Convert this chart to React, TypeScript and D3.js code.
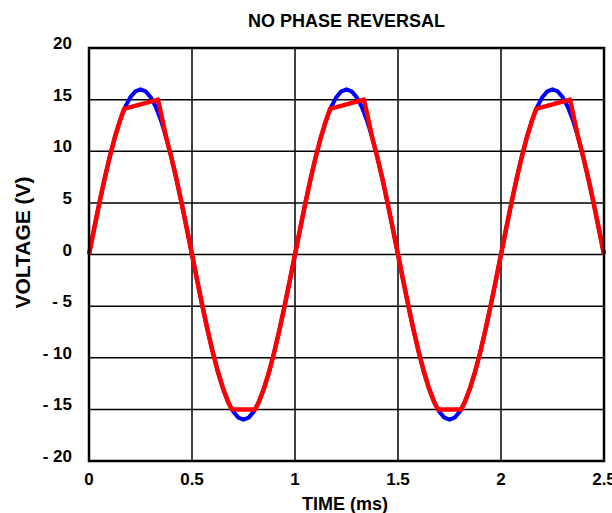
import React from "react";
import * as d3 from "d3";

const title = "NO PHASE REVERSAL";
const xLabel = "TIME (ms)";
const yLabel = "VOLTAGE (V)";
const xTicks = [0, 0.5, 1, 1.5, 2, 2.5];
const xTickLabels = ["0", "0.5", "1", "1.5", "2", "2.5"];
const yTicks = [20, 15, 10, 5, 0, -5, -10, -15, -20];
const yTickLabels = ["20", "15", "10", "5", "0", "- 5", "- 10", "- 15", "- 20"];

// Input (blue) — time in ms
const blueTime = [
  0, 0.025, 0.05, 0.075, 0.1, 0.125, 0.15, 0.175, 0.2, 0.225, 0.25, 0.275, 0.3, 0.325, 0.35, 0.375, 0.4, 0.425, 0.45, 0.475,
  0.5, 0.525, 0.55, 0.575, 0.6, 0.625, 0.65, 0.675, 0.7, 0.725, 0.75, 0.775, 0.8, 0.825, 0.85, 0.875, 0.9, 0.925, 0.95, 0.975,
  1, 1.025, 1.05, 1.075, 1.1, 1.125, 1.15, 1.175, 1.2, 1.225, 1.25, 1.275, 1.3, 1.325, 1.35, 1.375, 1.4, 1.425, 1.45, 1.475,
  1.5, 1.525, 1.55, 1.575, 1.6, 1.625, 1.65, 1.675, 1.7, 1.725, 1.75, 1.775, 1.8, 1.825, 1.85, 1.875, 1.9, 1.925, 1.95, 1.975,
  2, 2.025, 2.05, 2.075, 2.1, 2.125, 2.15, 2.175, 2.2, 2.225, 2.25, 2.275, 2.3, 2.325, 2.35, 2.375, 2.4, 2.425, 2.45, 2.475,
  2.5,
];
const blueVoltage = [
  0, 2.5, 4.94, 7.26, 9.4, 11.31, 12.94, 14.26, 15.22, 15.8, 16, 15.8, 15.22, 14.26, 12.94, 11.31, 9.4, 7.26, 4.94, 2.5,
  0, -2.5, -4.94, -7.26, -9.4, -11.31, -12.94, -14.26, -15.22, -15.8, -16, -15.8, -15.22, -14.26, -12.94, -11.31, -9.4, -7.26, -4.94, -2.5,
  0, 2.5, 4.94, 7.26, 9.4, 11.31, 12.94, 14.26, 15.22, 15.8, 16, 15.8, 15.22, 14.26, 12.94, 11.31, 9.4, 7.26, 4.94, 2.5,
  0, -2.5, -4.94, -7.26, -9.4, -11.31, -12.94, -14.26, -15.22, -15.8, -16, -15.8, -15.22, -14.26, -12.94, -11.31, -9.4, -7.26, -4.94, -2.5,
  0, 2.5, 4.94, 7.26, 9.4, 11.31, 12.94, 14.26, 15.22, 15.8, 16, 15.8, 15.22, 14.26, 12.94, 11.31, 9.4, 7.26, 4.94, 2.5,
  0,
];

// Output (red)
const redTime = [
  0, 0.025, 0.05, 0.075, 0.1, 0.125, 0.15, 0.17, 0.335, 0.375, 0.4, 0.425, 0.45, 0.475,
  0.5, 0.525, 0.55, 0.575, 0.6, 0.625, 0.65, 0.675, 0.693, 0.807, 0.825, 0.85, 0.875, 0.9, 0.925, 0.95, 0.975,
  1, 1.025, 1.05, 1.075, 1.1, 1.125, 1.15, 1.17, 1.335, 1.375, 1.4, 1.425, 1.45, 1.475,
  1.5, 1.525, 1.55, 1.575, 1.6, 1.625, 1.65, 1.675, 1.693, 1.807, 1.825, 1.85, 1.875, 1.9, 1.925, 1.95, 1.975,
  2, 2.025, 2.05, 2.075, 2.1, 2.125, 2.15, 2.17, 2.335, 2.375, 2.4, 2.425, 2.45, 2.475,
  2.5,
];
const redVoltage = [
  0, 2.5, 4.94, 7.26, 9.4, 11.31, 12.94, 14.1, 15, 11.31, 9.4, 7.26, 4.94, 2.5,
  0, -2.5, -4.94, -7.26, -9.4, -11.31, -12.94, -14.26, -15, -15, -14.26, -12.94, -11.31, -9.4, -7.26, -4.94, -2.5,
  0, 2.5, 4.94, 7.26, 9.4, 11.31, 12.94, 14.1, 15, 11.31, 9.4, 7.26, 4.94, 2.5,
  0, -2.5, -4.94, -7.26, -9.4, -11.31, -12.94, -14.26, -15, -15, -14.26, -12.94, -11.31, -9.4, -7.26, -4.94, -2.5,
  0, 2.5, 4.94, 7.26, 9.4, 11.31, 12.94, 14.1, 15, 11.31, 9.4, 7.26, 4.94, 2.5,
  0,
];

const W = 612;
const H = 513;
const left = 89;
const right = 604;
const top = 48;
const bottom = 461;
const font = "'Liberation Sans', Arial, sans-serif";

export default function App() {
  const x = d3.scaleLinear().domain([0, 2.5]).range([left, right]);
  const y = d3.scaleLinear().domain([-20, 20]).range([bottom, top]);
  const line = d3
    .line<[number, number]>()
    .x((d) => x(d[0]))
    .y((d) => y(d[1]))
    .curve(d3.curveLinear);
  const blue = blueTime.map((t, i) => [t, blueVoltage[i]] as [number, number]);
  const red = redTime.map((t, i) => [t, redVoltage[i]] as [number, number]);

  return (
    <svg
      width={W}
      height={H}
      style={{ position: "absolute", left: 0, top: 0, background: "#fff" }}
      fontFamily={font}
      fontWeight="bold"
    >
      <rect x={0} y={0} width={W} height={H} fill="#fff" />
      {xTicks.slice(1, -1).map((t) => (
        <line key={"gx" + t} x1={x(t)} x2={x(t)} y1={top} y2={bottom} stroke="#000" strokeWidth={1.5} />
      ))}
      {yTicks.slice(1, -1).map((t) => (
        <line key={"gy" + t} x1={left} x2={right} y1={y(t)} y2={y(t)} stroke="#000" strokeWidth={1.5} />
      ))}
      <path d={line(blue) ?? ""} fill="none" stroke="#0000ff" strokeWidth={4} strokeLinejoin="round" />
      <path d={line(red) ?? ""} fill="none" stroke="#ff0000" strokeWidth={4.5} strokeLinejoin="round" />
      <rect x={left} y={top} width={right - left} height={bottom - top} fill="none" stroke="#000" strokeWidth={2.5} />
      {yTicks.map((t, i) => (
        <text key={"yl" + t} x={72} y={y(t) - 5} dy="0.36em" textAnchor="end" fontSize={17}>
          {yTickLabels[i]}
        </text>
      ))}
      {xTicks.map((t, i) => (
        <text key={"xl" + t} x={x(t)} y={485} textAnchor="middle" fontSize={17}>
          {xTickLabels[i]}
        </text>
      ))}
      <text x={345} y={510} textAnchor="middle" fontSize={18}>
        {xLabel}
      </text>
      <text
        transform={`translate(30, ${(top + bottom) / 2 - 12}) rotate(-90)`}
        textAnchor="middle"
        fontSize={21}
      >
        {yLabel}
      </text>
      <text x={(left + right) / 2} y={27} textAnchor="middle" fontSize={18}>
        {title}
      </text>
    </svg>
  );
}
